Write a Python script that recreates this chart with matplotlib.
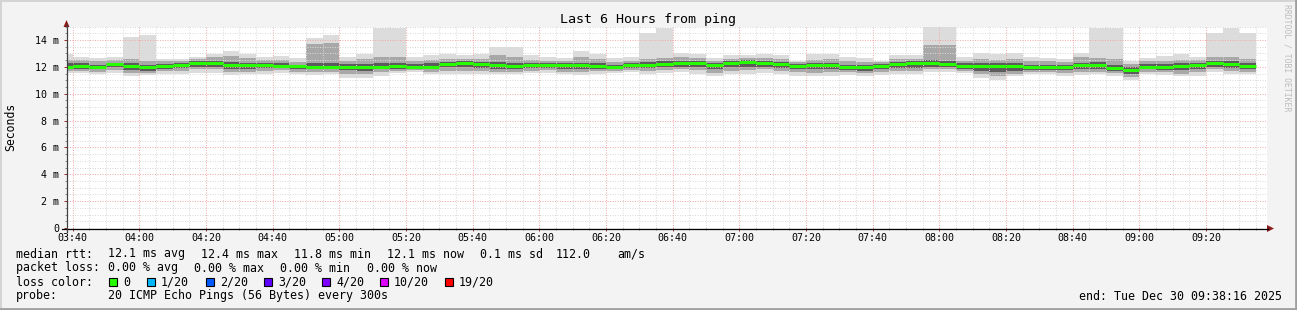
import numpy as np
import matplotlib
matplotlib.use('Agg')
import matplotlib.pyplot as plt
from matplotlib.patches import Rectangle, Polygon
from matplotlib.ticker import FuncFormatter, MultipleLocator

W, H = 1297, 310
MONO = 'DejaVu Sans Mono'

# 5 minute bins, start time in minutes after midnight (03:35 .. 09:30)
bin_start = list(range(215, 575, 5))

# rtt in ms
rtt_med = [12.02, 12.06, 11.98, 12.18, 12.07, 11.99, 12.06, 12.12, 12.30, 12.30, 12.12, 12.10,
           12.10, 12.08, 12.05, 12.00, 12.00, 12.00, 11.98, 12.00, 12.06, 12.00, 12.00, 12.20,
           12.25, 12.20, 12.15, 12.05, 12.10, 12.10, 12.10, 12.10, 12.05, 11.97, 12.12, 12.15,
           12.22, 12.25, 12.30, 12.15, 12.25, 12.35, 12.28, 12.20, 12.08, 12.12, 12.12, 11.98,
           11.98, 12.06, 12.22, 12.25, 12.30, 12.18, 12.08, 12.08, 12.08, 12.06, 11.97, 11.97,
           11.98, 12.12, 12.12, 11.88, 11.76, 12.00, 12.00, 12.08, 12.15, 12.27, 12.22, 12.06]
rtt_max = [12.95, 12.75, 12.62, 12.70, 14.20, 14.37, 12.55, 12.60, 12.70, 12.98, 13.15, 12.95,
           12.75, 12.78, 12.65, 14.15, 14.38, 12.75, 12.95, 14.90, 14.90, 12.72, 12.88, 12.95,
           12.90, 12.95, 13.50, 13.45, 12.88, 12.75, 12.65, 13.15, 12.95, 12.65, 12.75, 14.50,
           14.90, 13.05, 12.95, 12.65, 12.90, 12.88, 12.95, 12.85, 12.45, 12.95, 12.95, 12.70,
           12.65, 12.45, 12.90, 12.90, 14.95, 14.95, 12.75, 13.00, 12.95, 13.00, 12.70, 12.65,
           12.55, 13.05, 14.90, 14.90, 12.45, 12.65, 12.80, 12.95, 12.70, 14.55, 14.90, 14.50]
rtt_hi2 = [12.50, 12.50, 12.40, 12.50, 12.55, 12.45, 12.40, 12.45, 12.55, 12.70, 12.80, 12.65,
           12.50, 12.50, 12.35, 13.70, 13.75, 12.45, 12.55, 12.70, 12.75, 12.45, 12.50, 12.60,
           12.55, 12.60, 12.90, 12.70, 12.50, 12.45, 12.40, 12.70, 12.55, 12.35, 12.45, 12.60,
           12.65, 12.70, 12.65, 12.45, 12.60, 12.65, 12.65, 12.55, 12.35, 12.50, 12.55, 12.40,
           12.35, 12.35, 12.60, 12.60, 13.60, 13.65, 12.45, 12.55, 12.50, 12.60, 12.40, 12.40,
           12.35, 12.70, 12.65, 12.55, 12.20, 12.40, 12.45, 12.50, 12.50, 12.75, 12.70, 12.55]
rtt_hi1 = [12.25, 12.25, 12.15, 12.30, 12.25, 12.15, 12.20, 12.25, 12.40, 12.45, 12.35, 12.30,
           12.30, 12.25, 12.15, 12.30, 12.30, 12.20, 12.20, 12.25, 12.30, 12.20, 12.25, 12.35,
           12.40, 12.35, 12.35, 12.30, 12.30, 12.25, 12.25, 12.30, 12.25, 12.15, 12.30, 12.35,
           12.40, 12.40, 12.45, 12.30, 12.40, 12.50, 12.45, 12.35, 12.20, 12.30, 12.30, 12.15,
           12.15, 12.20, 12.35, 12.40, 12.50, 12.45, 12.25, 12.25, 12.25, 12.25, 12.15, 12.15,
           12.15, 12.30, 12.35, 12.15, 11.95, 12.20, 12.20, 12.25, 12.30, 12.45, 12.40, 12.30]
rtt_lo1 = [11.85, 11.85, 11.80, 11.95, 11.75, 11.70, 11.85, 11.90, 12.00, 12.00, 11.85, 11.85,
           11.90, 11.90, 11.80, 11.80, 11.80, 11.75, 11.70, 11.80, 11.85, 11.85, 11.80, 11.95,
           11.95, 11.90, 11.85, 11.80, 11.90, 11.90, 11.85, 11.85, 11.85, 11.80, 11.90, 11.90,
           11.95, 12.00, 11.95, 11.80, 11.95, 12.00, 12.00, 11.90, 11.80, 11.80, 11.80, 11.75,
           11.70, 11.80, 11.90, 11.90, 12.00, 11.95, 11.85, 11.70, 11.65, 11.70, 11.75, 11.75,
           11.75, 11.85, 11.85, 11.70, 11.50, 11.80, 11.75, 11.75, 11.85, 12.00, 11.90, 11.85]
rtt_lo2 = [11.70, 11.70, 11.65, 11.75, 11.55, 11.55, 11.70, 11.70, 11.80, 11.80, 11.65, 11.65,
           11.70, 11.75, 11.65, 11.60, 11.65, 11.50, 11.50, 11.60, 11.70, 11.75, 11.65, 11.70,
           11.70, 11.70, 11.65, 11.60, 11.70, 11.75, 11.65, 11.60, 11.70, 11.70, 11.75, 11.70,
           11.75, 11.80, 11.75, 11.55, 11.70, 11.75, 11.80, 11.70, 11.60, 11.55, 11.60, 11.60,
           11.55, 11.60, 11.70, 11.70, 11.80, 11.80, 11.70, 11.45, 11.35, 11.50, 11.60, 11.60,
           11.55, 11.60, 11.65, 11.55, 11.25, 11.60, 11.60, 11.50, 11.60, 11.80, 11.70, 11.65]
rtt_min = [11.55, 11.55, 11.50, 11.55, 11.30, 11.40, 11.50, 11.45, 11.55, 11.55, 11.40, 11.45,
           11.50, 11.55, 11.45, 11.40, 11.45, 11.20, 11.20, 11.30, 11.55, 11.60, 11.50, 11.45,
           11.45, 11.50, 11.45, 11.45, 11.55, 11.55, 11.45, 11.40, 11.50, 11.55, 11.60, 11.50,
           11.55, 11.60, 11.50, 11.30, 11.45, 11.50, 11.55, 11.45, 11.35, 11.30, 11.35, 11.40,
           11.35, 11.40, 11.50, 11.45, 11.60, 11.60, 11.55, 11.20, 11.00, 11.30, 11.45, 11.45,
           11.35, 11.40, 11.45, 11.35, 11.00, 11.45, 11.40, 11.30, 11.35, 11.60, 11.45, 11.50]

tick_minutes = list(range(220, 561, 20))
tick_labels = ['%02d:%02d' % (m // 60, m % 60) for m in tick_minutes]

stats = [('median rtt:', 16), ('12.1 ms avg', 108), ('12.4 ms max', 201), ('11.8 ms min', 294),
         ('12.1 ms now', 387), ('0.1 ms sd', 480), ('112.0', 556), ('am/s', 617)]
loss_stats = [('packet loss:', 16), ('0.00 % avg', 108), ('0.00 % max', 194),
              ('0.00 % min', 280), ('0.00 % now', 367)]
loss_labels = ['0', '1/20', '2/20', '3/20', '4/20', '10/20', '19/20']
loss_colors = ['#26ff00', '#00b8ff', '#0059ff', '#5e00ff', '#7e00ff', '#dd00ff', '#ff0000']
loss_box_x = [109, 147, 206, 264, 322, 380, 445]

fig = plt.figure(figsize=(W / 100, H / 100), dpi=100)
fig.patch.set_facecolor('#f3f3f3')

ax = fig.add_axes([67 / W, 1 - 228 / H, 1200 / W, 201.5 / H])
ax.set_facecolor('white')
t0 = 218 + 16 / 60.0
ax.set_xlim(t0, t0 + 360)
ax.set_ylim(0, 15)

starts = np.array(bin_start, dtype=float)
# smoke, outer pair lightest
for lo, hi, col in [(rtt_min, rtt_max, '#dcdcdc'),
                    (rtt_lo2, rtt_hi2, '#a8a8a8'),
                    (rtt_lo1, rtt_hi1, '#5c5c5c')]:
    lo = np.array(lo); hi = np.array(hi)
    ax.bar(starts, hi - lo, bottom=lo, width=5, align='edge', color=col,
           linewidth=0, zorder=1)

ax.hlines(rtt_med, starts, starts + 5, colors='#26ff00', linewidth=2.2, zorder=3)

ax.set_xticks(tick_minutes)
ax.set_xticklabels(tick_labels)
ax.xaxis.set_minor_locator(MultipleLocator(5))
ax.yaxis.set_major_locator(MultipleLocator(2))
ax.yaxis.set_minor_locator(MultipleLocator(0.5))
ax.yaxis.set_major_formatter(FuncFormatter(lambda v, p: '0' if v == 0 else '%d m' % v))

ax.set_axisbelow(False)
ax.grid(which='minor', color='#dadada', linestyle=(0, (1, 1.5)), linewidth=0.72, zorder=4)
ax.grid(which='major', color='#f5a8a8', linestyle=(0, (1, 1.5)), linewidth=0.72, zorder=5)

for lab in ax.get_xticklabels() + ax.get_yticklabels():
    lab.set_family(MONO)
    lab.set_fontsize(7.2)
ax.tick_params(which='major', axis='x', length=2, pad=1.8, color='#a03030', width=0.72)
ax.tick_params(which='major', axis='y', length=2, pad=3.8, color='#a03030', width=0.72)
ax.tick_params(which='minor', length=1.5, color='#909090', width=0.72)
for s in ax.spines.values():
    s.set_visible(False)

# overlay in pixel coordinates for frame, axes arrows and legend
ov = fig.add_axes([0, 0, 1, 1], facecolor='none')
ov.set_xlim(0, W)
ov.set_ylim(H, 0)
ov.axis('off')

ov.plot([0, W], [0.5, 0.5], color='#d4d4d4', lw=1.4)
ov.plot([0.5, 0.5], [0, H], color='#d4d4d4', lw=1.4)
ov.plot([0, W], [H - 1, H - 1], color='#a0a0a0', lw=2)
ov.plot([W - 1, W - 1], [0, H], color='#a0a0a0', lw=2)

ov.plot([62, 1268], [228.5, 228.5], color='#000000', lw=0.9)
ov.plot([66.5, 66.5], [232, 25], color='#404040', lw=0.9)
ov.add_patch(Polygon([(63.5, 27), (69.5, 27), (66.5, 20)], closed=True,
                     facecolor='#8b1a1a', edgecolor='none'))
ov.add_patch(Polygon([(1267, 225), (1267, 232), (1274, 228.5)], closed=True,
                     facecolor='#8b1a1a', edgecolor='none'))

ov.text(648, 19, 'Last 6 Hours from ping', family=MONO, fontsize=9.6,
        ha='center', va='center')
ov.text(11, 127, 'Seconds', family=MONO, fontsize=8.3, rotation=90,
        ha='center', va='center')
ov.text(1287, 4, 'RRDTOOL / TOBI OETIKER', family=MONO, fontsize=5.9,
        rotation=270, ha='center', va='top', color='#bdbdbd')

for txt, x in stats:
    ov.text(x, 254, txt, family=MONO, fontsize=8.4, ha='left', va='center')
for txt, x in loss_stats:
    ov.text(x, 268, txt, family=MONO, fontsize=8.4, ha='left', va='center')
ov.text(16, 282, 'loss color:', family=MONO, fontsize=8.4, ha='left', va='center')
for lab, col, x in zip(loss_labels, loss_colors, loss_box_x):
    ov.add_patch(Rectangle((x, 278), 8, 8, facecolor=col, edgecolor='#000000', lw=0.8))
    ov.text(x + 14, 282, lab, family=MONO, fontsize=8.4, ha='left', va='center')
ov.text(16, 296, 'probe:', family=MONO, fontsize=8.4, ha='left', va='center')
ov.text(108, 296, '20 ICMP Echo Pings (56 Bytes) every 300s', family=MONO,
        fontsize=8.4, ha='left', va='center')
ov.text(1282, 296, 'end: Tue Dec 30 09:38:16 2025', family=MONO, fontsize=8.4,
        ha='right', va='center')

fig.savefig('out.png', dpi=100, facecolor=fig.get_facecolor())
